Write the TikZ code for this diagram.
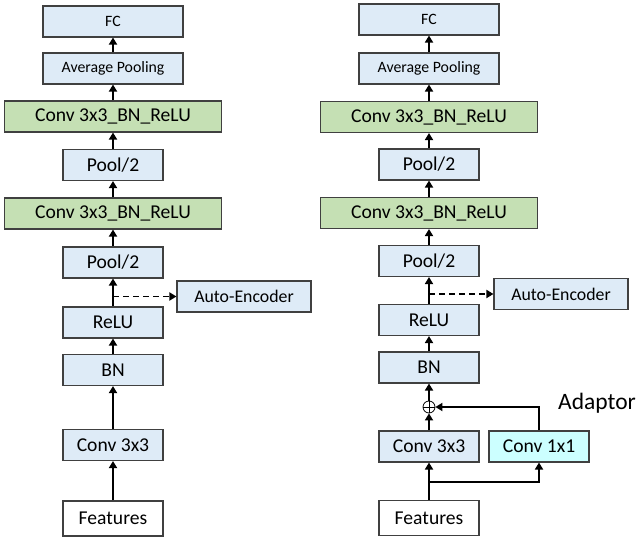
\documentclass[tikz,border=0pt]{standalone}
\usepackage{fontspec}
\setmainfont{Carlito}
\usepackage{tikz}
\usetikzlibrary{arrows.meta, shapes, positioning}
\definecolor{layerblue}{HTML}{DEEBF7}
\definecolor{layergreen}{HTML}{C5E0B4}
\definecolor{adaptcyan}{HTML}{CCFFFF}
\definecolor{edge}{HTML}{404040}
\tikzstyle{layer} = [draw=edge, line width=1.1pt, fill=layerblue, minimum width=100, minimum height=31,
                     inner sep=0, font=\fontsize{19.6}{22}\selectfont]
\tikzstyle{head} = [layer, minimum width=140, font=\fontsize{15.8}{18}\selectfont]
\tikzstyle{fused} = [layer, fill=layergreen, minimum width=217]
\tikzstyle{encoder} = [layer, minimum width=134, font=\fontsize{17.8}{20}\selectfont]
\tikzstyle{input} = [layer, fill=white, minimum height=35]
\tikzstyle{adaptor} = [layer, fill=adaptcyan]
\tikzstyle{sum} = [circle, draw=black, line width=0.8pt, minimum size=12, inner sep=0,
                   path picture={\draw [line width=0.8pt] (path picture bounding box.north) -- (path picture bounding box.south)
                                 (path picture bounding box.west) -- (path picture bounding box.east);}]
\tikzstyle{flow} = [line width=1.7pt, -{Triangle[length=7pt, width=8pt]}]
\tikzstyle{skip} = [flow, dash pattern=on 6pt off 4pt]

\begin{document}
\begin{tikzpicture}[x=1pt, y=1pt]
				\useasboundingbox (0, 0) rectangle (639, 540);

				% plain network
				\node (LFC) [head] at (113, 518.5) {FC};
				\node (LAvg) [head] at (113, 471.5) {Average Pooling};
				\node (LFusedA) [fused] at (113, 423.5) {Conv 3x3\_BN\_ReLU};
				\node (LPoolA) [layer] at (113, 375) {Pool/2};
				\node (LFusedB) [fused] at (113, 326.5) {Conv 3x3\_BN\_ReLU};
				\node (LPoolB) [layer] at (113, 277.5) {Pool/2};
				\node (LReLU) [layer] at (113, 217.5) {ReLU};
				\node (LBN) [layer] at (113, 170) {BN};
				\node (LConv) [layer] at (113, 95) {Conv 3x3};
				\node (LFeat) [input] at (113, 21.5) {Features};
				\node (LAE) [encoder] at (244, 243.5) {Auto-Encoder};

				\draw [flow] (LFeat) -- (LConv);
				\draw [flow] (LConv) -- (LBN);
				\draw [flow] (LBN) -- (LReLU);
				\draw [flow] (LReLU) -- (LPoolB);
				\draw [flow] (LPoolB) -- (LFusedB);
				\draw [flow] (LFusedB) -- (LPoolA);
				\draw [flow] (LPoolA) -- (LFusedA);
				\draw [flow] (LFusedA) -- (LAvg);
				\draw [flow] (LAvg) -- (LFC);

				\coordinate (LTap) at (113, 243.5);
				\draw [skip] (LTap) -- (LAE);

				% network with adaptor
				\node (RFC) [head] at (429, 520.5) {FC};
				\node (RAvg) [head] at (429, 471.5) {Average Pooling};
				\node (RFusedA) [fused] at (429, 423) {Conv 3x3\_BN\_ReLU};
				\node (RPoolA) [layer] at (429, 375.5) {Pool/2};
				\node (RFusedB) [fused] at (429, 327) {Conv 3x3\_BN\_ReLU};
				\node (RPoolB) [layer] at (429, 279) {Pool/2};
				\node (RReLU) [layer] at (429, 220) {ReLU};
				\node (RBN) [layer] at (429, 172.5) {BN};
				\node (RSum) [sum] at (429, 133) {};
				\node (RConv) [layer] at (429, 93.5) {Conv 3x3};
				\node (RAdapt) [adaptor] at (539, 93.5) {Conv 1x1};
				\node (RFeat) [input] at (429, 22) {Features};
				\node (RAE) [encoder] at (561, 246) {Auto-Encoder};
				\node (AdaptLabel) [anchor=west, inner sep=0, font=\fontsize{23.5}{26}\selectfont] at (558, 137) {Adaptor};

				\draw [flow] (RFeat) -- (RConv);
				\coordinate (RSplit) at (429, 58);
				\draw [flow] (RSplit) -| (RAdapt);
				\draw [flow] (RConv) -- (RSum);
				\draw [flow] (RAdapt.north) |- (RSum.east);
				\draw [flow] (RSum) -- (RBN);
				\draw [flow] (RBN) -- (RReLU);
				\draw [flow] (RReLU) -- (RPoolB);
				\draw [flow] (RPoolB) -- (RFusedB);
				\draw [flow] (RFusedB) -- (RPoolA);
				\draw [flow] (RPoolA) -- (RFusedA);
				\draw [flow] (RFusedA) -- (RAvg);
				\draw [flow] (RAvg) -- (RFC);

				\coordinate (RTap) at (429, 246);
				\draw [skip] (RTap) -- (RAE);
			\end{tikzpicture}
\end{document}
